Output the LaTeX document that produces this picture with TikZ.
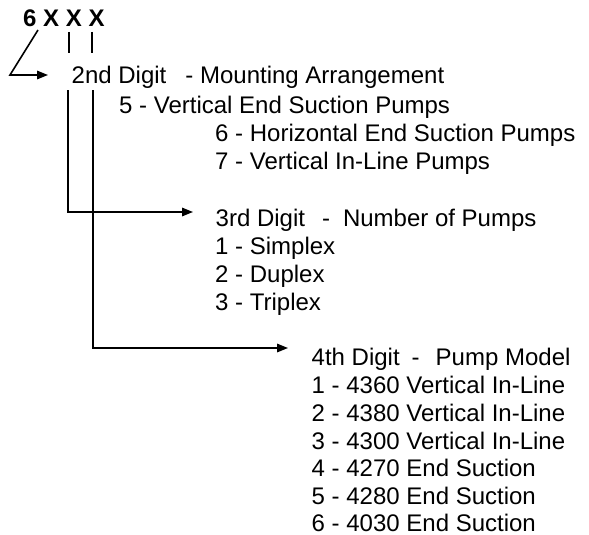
\documentclass[tikz,border=0pt]{standalone}
\usepackage{fontspec}
\setmainfont{Liberation Sans}
\usetikzlibrary{arrows.meta}
\newcommand{\txtsz}{\fontsize{24pt}{28pt}\selectfont}
\begin{document}
\begin{tikzpicture}[x=1pt,y=-1pt,
  txt/.style={font=\txtsz, inner sep=0pt, anchor=base west},
  conn/.style={line width=1.6pt},
  arr/.style={conn, -{Triangle[length=11pt,width=8.5pt]}}]
\useasboundingbox (0,0) rectangle (589,535);
% texts
\node[txt, font=\txtsz\bfseries] (code) at (23,27) {6 X X X};
\node[txt] (d2) at (71.5,84) {2nd Digit\hspace{19pt}-\hspace{6.7pt}Mounting Arrangement};
\node[txt] (m5) at (119,113) {5 - Vertical End Suction Pumps};
\node[txt] (m6) at (215,141) {6 - Horizontal End Suction Pumps};
\node[txt] (m7) at (215,169) {7 - Vertical In-Line Pumps};
\node[txt] (d3) at (215.5,226) {3rd Digit\hspace{17pt}-\hspace{13pt}Number of Pumps};
\node[txt] (p1) at (215,254) {1 - Simplex};
\node[txt] (p2) at (215,282) {2 - Duplex};
\node[txt] (p3) at (215,310) {3 - Triplex};
\node[txt] (d4) at (311.5,365) {4th Digit\hspace{12pt}-\hspace{16pt}Pump Model};
\node[txt] (q1) at (311.5,393) {1 - 4360 Vertical In-Line};
\node[txt] (q2) at (311.5,421) {2 - 4380 Vertical In-Line};
\node[txt] (q3) at (311.5,449) {3 - 4300 Vertical In-Line};
\node[txt] (q4) at (311.5,476) {4 - 4270 End Suction};
\node[txt] (q5) at (311.5,504) {5 - 4280 End Suction};
\node[txt] (q6) at (311.5,531) {6 - 4030 End Suction};
% coordinates
\coordinate (s1) at (38,30);
\coordinate (b1) at (10,75);
\coordinate (e1) at (48,75);
\coordinate (t2a) at (69,32);
\coordinate (t2b) at (69,53);
\coordinate (t3a) at (92,32);
\coordinate (t3b) at (92,53);
\coordinate (l2) at (68,90);
\coordinate (b2) at (68,212);
\coordinate (e2) at (193,212);
\coordinate (l3) at (93,90);
\coordinate (b3) at (93,348);
\coordinate (e3) at (288,348);
% connectors
\draw[arr] (s1) -- (b1) -- (e1);
\draw[conn] (t2a) -- (t2b);
\draw[conn] (t3a) -- (t3b);
\draw[arr] (l2) -- (b2) -- (e2);
\draw[arr] (l3) -- (b3) -- (e3);
\end{tikzpicture}
\end{document}
